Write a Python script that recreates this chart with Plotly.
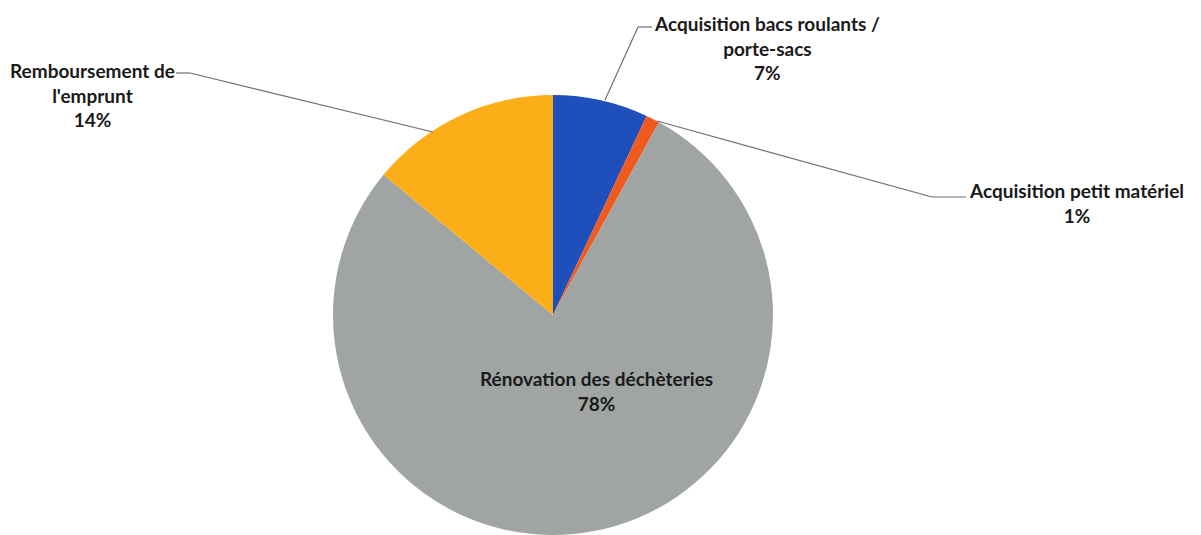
import plotly.graph_objects as go

categories = ["Acquisition bacs roulants /<br>porte-sacs", "Acquisition petit matériel",
              "Rénovation des déchèteries", "Remboursement de<br>l'emprunt"]
values = [7, 1, 78, 14]
colors = ["#1E4FBA", "#F05A1E", "#A0A4A3", "#FBAE17"]

W, H = 1201, 535
OFF = 8  # default page body margin

def px(x):
    return (x - OFF) / W

def py(y):
    return 1 - (y - OFF) / H

CX, CY, R = 553, 315, 220

fig = go.Figure()
fig.add_trace(go.Pie(
    labels=categories, values=values, sort=False, direction="clockwise", rotation=0,
    marker=dict(colors=colors, line=dict(width=0)),
    textinfo="none", hoverinfo="label+percent", showlegend=False,
    domain=dict(x=[px(CX - R), px(CX + R)], y=[py(CY + R), py(CY - R)]),
))

font = dict(family="Lato, 'Open Sans', sans-serif", size=19, color="#1a1a1a")
label_pos = [(767, 48), (1076, 203), (596, 391), (92, 95)]
for name, v, (x, y) in zip(categories, values, label_pos):
    fig.add_annotation(x=px(x), y=py(y), xref="paper", yref="paper",
                       text="<b>%s<br>%d%%</b>" % (name, v), showarrow=False,
                       xanchor="center", yanchor="middle", align="center", font=font)

leaders = [
    [(652, 27), (638, 27), (605, 100)],
    [(966, 197), (932, 197), (657, 121)],
    [(176, 73), (190, 73), (433, 132)],
]
for pts in leaders:
    for (x0, y0), (x1, y1) in zip(pts[:-1], pts[1:]):
        fig.add_shape(type="line", xref="paper", yref="paper",
                      x0=px(x0), y0=py(y0), x1=px(x1), y1=py(y1),
                      line=dict(color="#6f6f6f", width=1.2))

fig.update_layout(width=W, height=H, margin=dict(l=0, r=0, t=0, b=0),
                  paper_bgcolor="white", plot_bgcolor="white")
fig.write_html("out.html")
